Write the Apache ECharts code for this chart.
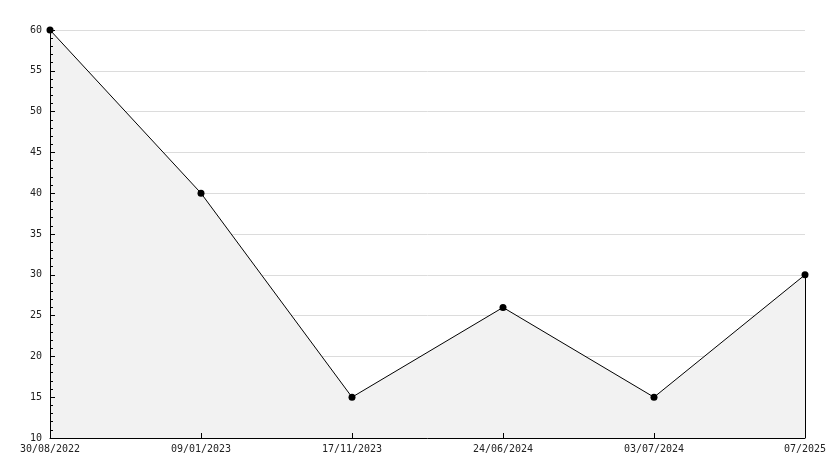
<!DOCTYPE html>
<html><head><meta charset="utf-8">
<script src="https://cdn.jsdelivr.net/npm/echarts@6/dist/echarts.min.js"></script>
<style>html,body{margin:0;padding:0;background:#fff}#c{width:834px;height:468px}</style>
</head><body><div id="c"></div>
<script>
const categories = ['30/08/2022','09/01/2023','17/11/2023','24/06/2024','03/07/2024','07/2025'];
const values = [60, 40, 15, 26, 15, 30];
const yMin = 10, yMax = 60, yStep = 5;

const chart = echarts.init(document.getElementById('c'), null, {renderer:'canvas'});
const lastCat = categories[categories.length-1];
const lastVal = values[values.length-1];
const font = {fontFamily:'DejaVu Sans Mono', fontSize:10, color:'#222'};
chart.setOption({
  animation:false,
  backgroundColor:'#fff',
  grid:{left:50,right:29,top:30,bottom:30},
  xAxis:{type:'category',data:categories,boundaryGap:false,z:5,
    axisLine:{lineStyle:{color:'#000',width:1}},
    axisTick:{inside:true,length:5,lineStyle:{color:'#000'},alignWithLabel:true},
    axisLabel:Object.assign({margin:6,interval:0,showMaxLabel:true,showMinLabel:true},font),
    splitLine:{show:false}},
  yAxis:[
    {type:'value',min:yMin,max:yMax,interval:yStep,z:5,position:'left',
      axisLine:{show:true,lineStyle:{color:'#000',width:1}},
      axisTick:{show:true,inside:true,length:5,lineStyle:{color:'#000'}},
      minorTick:{show:true,splitNumber:5,length:3,lineStyle:{color:'#000'}},
      axisLabel:Object.assign({margin:8},font),
      splitLine:{show:false}},
    {type:'value',min:yMin,max:yMax,interval:yStep,z:0,position:'left',
      axisLine:{show:false},axisTick:{show:false},axisLabel:{show:false},
      splitLine:{show:true,lineStyle:{color:'#dcdcdc',width:1}}}
  ],
  series:[{type:'line',data:values,yAxisIndex:0,
    symbol:'circle',symbolSize:7,
    itemStyle:{color:'#000'},
    lineStyle:{color:'#000',width:1},
    areaStyle:{color:'#f2f2f2',opacity:1},
    markLine:{silent:true,symbol:'none',label:{show:false},
      lineStyle:{color:'#000',width:1,type:'solid'},
      data:[[{coord:[lastCat,yMin]},{coord:[lastCat,lastVal]}]]}
  }]
});
</script></body></html>
